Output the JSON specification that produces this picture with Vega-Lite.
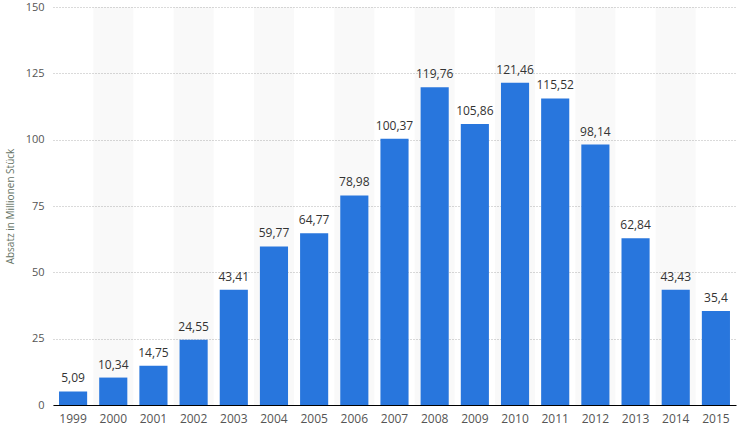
{
  "$schema": "https://vega.github.io/schema/vega-lite/v6.json",
  "width": 683,
  "height": 398,
  "padding": {"left": 5, "top": 1, "right": 1, "bottom": 4},
  "config": {
    "view": {"stroke": null},
    "font": "Open Sans",
    "locale": {"number": {"decimal": ",", "thousands": ".", "grouping": [3], "currency": ["", " €"]}}
  },
  "data": {
    "values": [
      {"year": 1999, "value": 5.09},
      {"year": 2000, "value": 10.34},
      {"year": 2001, "value": 14.75},
      {"year": 2002, "value": 24.55},
      {"year": 2003, "value": 43.41},
      {"year": 2004, "value": 59.77},
      {"year": 2005, "value": 64.77},
      {"year": 2006, "value": 78.98},
      {"year": 2007, "value": 100.37},
      {"year": 2008, "value": 119.76},
      {"year": 2009, "value": 105.86},
      {"year": 2010, "value": 121.46},
      {"year": 2011, "value": 115.52},
      {"year": 2012, "value": 98.14},
      {"year": 2013, "value": 62.84},
      {"year": 2014, "value": 43.43},
      {"year": 2015, "value": 35.4}
    ]
  },
  "encoding": {
    "x": {
      "field": "year",
      "type": "ordinal",
      "scale": {"paddingInner": 0.3, "paddingOuter": 0.15},
      "axis": {
        "title": null,
        "labelAngle": 0,
        "ticks": false,
        "domain": true,
        "domainColor": "#000000",
        "domainWidth": 1,
        "labelColor": "#555555",
        "labelFontSize": 12,
        "labelPadding": 8,
        "grid": false
      }
    }
  },
  "layer": [
    {
      "transform": [{"filter": "datum.year % 2 == 0"}],
      "mark": {"type": "bar", "color": "#000000", "opacity": 0.025, "width": {"band": 1.4286}},
      "encoding": {
        "y": {
          "datum": 150,
          "type": "quantitative",
          "scale": {"domain": [0, 150], "nice": false},
          "axis": {
            "title": "Absatz in Millionen Stück",
            "titleFontSize": 10,
            "titleFontWeight": "normal",
            "titleColor": "#647264",
            "titlePadding": 10,
            "values": [0, 25, 50, 75, 100, 125, 150],
            "domain": false,
            "ticks": false,
            "labelColor": "#555555",
            "labelFontSize": 11,
            "labelPadding": 9,
            "grid": true,
            "gridColor": "#b4b4b4",
            "gridDash": [1, 2],
            "gridWidth": 1
          }
        },
        "y2": {"datum": 0}
      }
    },
    {
      "mark": {"type": "bar", "color": "#2876dd"},
      "encoding": {
        "y": {"field": "value", "type": "quantitative", "scale": {"domain": [0, 150], "nice": false}}
      }
    },
    {
      "mark": {"type": "text", "baseline": "bottom", "dy": -6, "fontSize": 12, "color": "#333333"},
      "encoding": {
        "y": {"field": "value", "type": "quantitative", "scale": {"domain": [0, 150], "nice": false}},
        "text": {"field": "value", "type": "quantitative", "format": ".2~f"}
      }
    }
  ]
}
